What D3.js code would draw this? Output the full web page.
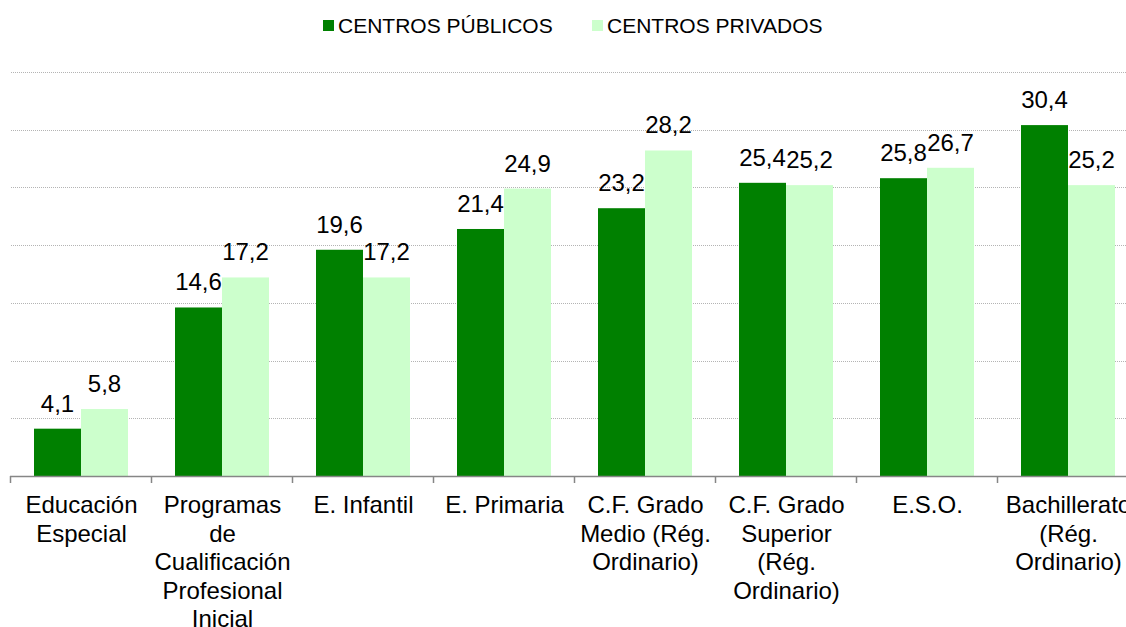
<!DOCTYPE html>
<html><head><meta charset="utf-8">
<script src="https://cdn.jsdelivr.net/npm/d3@7"></script>
<style>body{margin:0;background:#fff}svg{display:block;font-family:"Liberation Sans",Arial,sans-serif}</style>
</head><body><svg id="c" width="1126" height="627"></svg>
<script>
const categories = [
  ["Educación","Especial"],
  ["Programas","de","Cualificación","Profesional","Inicial"],
  ["E. Infantil"],
  ["E. Primaria"],
  ["C.F. Grado","Medio (Rég.","Ordinario)"],
  ["C.F. Grado","Superior","(Rég.","Ordinario)"],
  ["E.S.O."],
  ["Bachillerato","(Rég.","Ordinario)"]
];
const seriesNames = ["CENTROS PÚBLICOS","CENTROS PRIVADOS"];
const publicos = [4.1,14.6,19.6,21.4,23.2,25.4,25.8,30.4];
const privados = [5.8,17.2,17.2,24.9,28.2,25.2,26.7,25.2];
const gridTicks = [5,10,15,20,25,30,35];
const colors = ["#008000","#ccffcc"];

(function(){
const svg = d3.select("#c");
const plotLeft = 10, step = 141, plotBottom = 476, plotTop = 72;
const idx = d3.range(categories.length);
const x0 = d3.scaleBand().domain(idx).range([plotLeft, plotLeft + step*categories.length]).padding(0);
const x1 = d3.scaleBand().domain([0,1]).range([24, 118]).padding(0);
const y = d3.scaleLinear().domain([0,35]).range([plotBottom, plotTop]);
const fmt = v => d3.format(".1f")(v).replace(".", ",");

// gridlines
svg.append("g").selectAll("line").data(gridTicks).join("line")
  .attr("x1", 11).attr("x2", 1126)
  .attr("y1", d => Math.round(y(d)) + 0.5).attr("y2", d => Math.round(y(d)) + 0.5)
  .attr("stroke", "#b4b4b4").attr("stroke-width", 1).attr("stroke-dasharray", "1,1");

// bars
const data = idx.map(i => [publicos[i], privados[i]]);
const g = svg.append("g");
idx.forEach(i => {
  data[i].forEach((v, s) => {
    g.append("rect")
      .attr("x", x0(i) + x1(s)).attr("width", x1.bandwidth())
      .attr("y", y(v)).attr("height", plotBottom - y(v))
      .attr("fill", colors[s]);
  });
});
idx.forEach(i => {
  data[i].forEach((v, s) => {
    g.append("text")
      .attr("x", x0(i) + x1(s) + x1.bandwidth()/2)
      .attr("y", y(v) - 17)
      .attr("text-anchor", "middle").attr("font-size", 24).attr("fill", "#000")
      .text(fmt(v));
  });
});

// axis
const ax = svg.append("g");
ax.append("line").attr("x1", plotLeft).attr("x2", 1126).attr("y1", plotBottom + 0.5).attr("y2", plotBottom + 0.5)
  .attr("stroke", "#868686").attr("stroke-width", 1.5);
ax.selectAll(".tk").data(idx).join("line")
  .attr("x1", d => Math.round(x0(d)) + 0.5).attr("x2", d => Math.round(x0(d)) + 0.5)
  .attr("y1", plotBottom).attr("y2", plotBottom + 7)
  .attr("stroke", "#868686").attr("stroke-width", 1.5);
idx.forEach(i => {
  const t = ax.append("text").attr("text-anchor", "middle").attr("font-size", 24).attr("fill", "#000");
  categories[i].forEach((line, k) => {
    t.append("tspan").attr("x", x0(i) + step/2 + 1).attr("y", 513 + k*28.6).text(line);
  });
});

// legend
const leg = svg.append("g");
const legX = [323, 592];
seriesNames.forEach((n, s) => {
  leg.append("rect").attr("x", legX[s]).attr("y", 20).attr("width", 11).attr("height", 11).attr("fill", colors[s]);
  leg.append("text").attr("x", legX[s] + 15).attr("y", 33).attr("font-size", 21).attr("fill", "#000").text(n);
});
})();
</script></body></html>
